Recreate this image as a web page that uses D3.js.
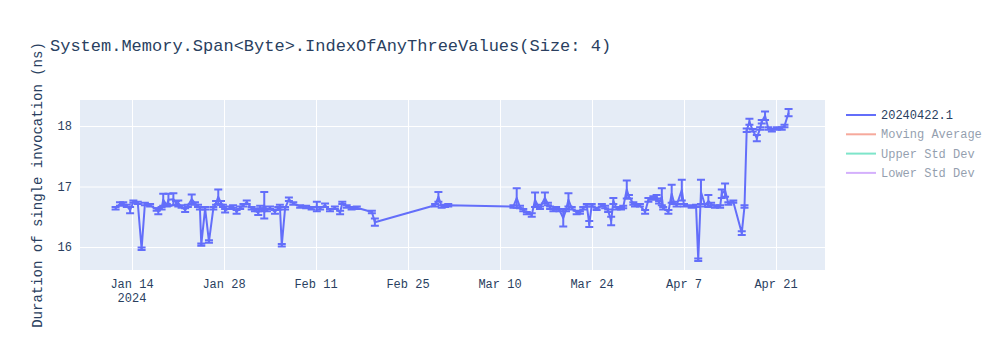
<!DOCTYPE html>
<html>
<head>
<meta charset="utf-8">
<script src="https://cdn.jsdelivr.net/npm/d3@7"></script>
<style>
  html, body { margin: 0; padding: 0; background: #fff; }
  svg { display: block; }
  text { font-family: "Courier New", "Liberation Mono", monospace; }
</style>
</head>
<body>
<svg id="chart" width="1000" height="350"></svg>
<script>
// Benchmark run timestamps (2024, UTC) — month-day T hour
const runDates = [
  "01-11T12","01-12T04","01-12T16","01-13T05","01-13T17","01-14T05","01-14T21","01-15T11","01-15T23","01-16T18",
  "01-17T18","01-18T00","01-18T12","01-18T18","01-19T07","01-19T13","01-20T07","01-20T17","01-21T01","01-21T13",
  "01-22T02","01-22T12","01-23T02","01-23T14","01-24T01","01-24T08","01-24T13","01-25T03","01-25T17","01-26T09",
  "01-26T19","01-27T03","01-27T13","01-27T20","01-28T04","01-28T22","01-29T09","01-29T22","01-30T11","01-30T23",
  "01-31T11","02-01T05","02-01T17","02-02T05","02-02T12","02-02T19","02-03T03","02-03T13","02-04T00","02-04T18",
  "02-05T06","02-05T12","02-05T19","02-06T07","02-06T21","02-07T13","02-08T14","02-09T12","02-10T08","02-11T03",
  "02-11T15","02-12T09","02-13T03","02-13T21","02-14T16","02-15T00","02-15T16","02-16T10","02-17T05","02-19T12",
  "02-19T23","02-29T03","02-29T15","03-01T03","03-01T15","03-02T03","03-12T01","03-12T13","03-13T01","03-13T13",
  "03-14T02","03-14T20","03-15T08","03-15T19","03-16T02","03-16T20","03-17T07","03-17T15","03-18T03","03-18T13",
  "03-19T01","03-19T15","03-20T01","03-20T10","03-20T22","03-21T16","03-22T04","03-22T16","03-23T05","03-23T14",
  "03-23T23","03-24T17","03-25T12","03-26T00","03-26T11","03-26T22","03-27T06","03-27T18","03-28T10","03-28T18",
  "03-29T07","03-29T15","03-30T07","03-30T13","03-31T07","04-01T02","04-01T14","04-02T08","04-02T20","04-03T05",
  "04-03T15","04-03T20","04-04T15","04-05T03","04-05T12","04-05T21","04-06T16","04-07T00","04-08T04","04-08T20",
  "04-09T04","04-09T14","04-10T05","04-10T17","04-11T03","04-11T17","04-12T12","04-12T18","04-13T06","04-13T18",
  "04-14T12","04-15T19","04-16T05","04-16T13","04-16T23","04-17T11","04-18T02","04-18T14","04-18T20","04-19T08",
  "04-19T20","04-20T09","04-21T03","04-21T21","04-22T07","04-22T22"
];

// Mean duration of a single invocation (ns)
const durations = [
  16.64,16.71,16.72,16.68,16.61,16.75,16.73,15.97,16.71,16.69,
  16.62,16.59,16.64,16.78,16.69,16.78,16.79,16.73,16.72,16.67,
  16.61,16.68,16.79,16.72,16.68,16.64,16.04,16.64,16.09,16.64,
  16.73,16.83,16.73,16.68,16.60,16.65,16.67,16.58,16.65,16.69,
  16.74,16.64,16.61,16.56,16.66,16.61,16.69,16.61,16.65,16.58,
  16.64,16.68,16.03,16.64,16.79,16.72,16.67,16.66,16.64,16.67,
  16.64,16.69,16.61,16.65,16.57,16.73,16.67,16.64,16.65,16.58,
  16.41,16.69,16.83,16.67,16.68,16.69,16.67,16.81,16.66,16.61,
  16.56,16.53,16.78,16.68,16.65,16.81,16.71,16.65,16.61,16.64,
  16.61,16.48,16.61,16.78,16.64,16.57,16.57,16.64,16.69,16.38,
  16.69,16.63,16.69,16.66,16.60,16.43,16.76,16.64,16.64,16.66,
  16.95,16.83,16.72,16.69,16.69,16.58,16.78,16.81,16.83,16.74,
  16.83,16.64,16.58,16.88,16.73,16.69,16.94,16.69,16.67,16.68,
  15.79,16.91,16.69,16.76,16.71,16.67,16.67,16.88,16.94,16.72,
  16.75,16.23,16.67,17.93,18.07,17.93,17.80,17.96,18.07,18.17,
  17.96,17.93,17.96,17.96,18.00,18.22
];

// Standard error of each measurement (ns)
const errors = [
  .02,.03,.02,.02,.05,.02,.02,.02,.02,.02,
  .02,.05,.02,.10,.02,.10,.10,.03,.05,.02,
  .03,.02,.08,.02,.02,.02,.02,.02,.02,.02,
  .03,.12,.03,.02,.03,.02,.02,.03,.02,.02,
  .03,.02,.02,.03,.02,.02,.22,.02,.02,.03,
  .02,.02,.02,.02,.03,.02,.02,.02,.02,.08,
  .02,.03,.02,.02,.03,.02,.02,.02,.02,.02,
  .06,.02,.08,.02,.02,.02,.02,.16,.02,.02,
  .02,.03,.12,.02,.02,.09,.02,.02,.02,.02,
  .02,.14,.02,.11,.02,.03,.02,.02,.02,.05,
  .02,.02,.02,.02,.02,.07,.05,.02,.02,.02,
  .15,.03,.02,.02,.02,.03,.03,.03,.03,.02,
  .14,.02,.03,.15,.02,.02,.17,.02,.02,.02,
  .02,.20,.02,.10,.02,.02,.02,.07,.11,.02,
  .02,.03,.02,.03,.05,.02,.05,.02,.03,.07,
  .02,.02,.02,.02,.02,.06
];

const yTicks = [16, 17, 18];
const xTickDates = ["2024-01-14","2024-01-28","2024-02-11","2024-02-25","2024-03-10","2024-03-24","2024-04-07","2024-04-21"];

const legendNames = ["20240422.1", "Moving Average", "Upper Std Dev", "Lower Std Dev"];
const legendColors = ["#636efa", "#EF553B", "#00cc96", "#ab63fa"];
const legendHidden = [false, true, true, true];

const titleText = "System.Memory.Span<Byte>.IndexOfAnyThreeValues(Size: 4)";
const yTitleText = "Duration of single invocation (ns)";

// ---- drawing ----
const parseRun = d3.utcParse("%Y-%m-%dT%H");
const parseDay = d3.utcParse("%Y-%m-%d");
const points = runDates.map((d, i) => ({
  date: parseRun("2024-" + d),
  value: durations[i],
  err: errors[i]
}));

const svg = d3.select("#chart");
const plot = { left: 80, right: 825, top: 100, bottom: 270 };
const textColor = "#2a3f5f";
const lineColor = "#636efa";

const x = d3.scaleUtc()
  .domain([new Date(Date.UTC(2024, 0, 6, 2)), new Date(Date.UTC(2024, 3, 28, 11))])
  .range([plot.left, plot.right]);
const y = d3.scaleLinear()
  .domain([15.62, 18.43])
  .range([plot.bottom, plot.top]);

svg.append("rect")
  .attr("x", plot.left).attr("y", plot.top)
  .attr("width", plot.right - plot.left).attr("height", plot.bottom - plot.top)
  .attr("fill", "#e5ecf6");

const xTicks = xTickDates.map(parseDay);

// grid
const xAxis = d3.axisBottom(x).tickValues(xTicks).tickSize(-(plot.bottom - plot.top)).tickFormat("");
svg.append("g").attr("transform", `translate(0,${plot.bottom})`).call(xAxis)
  .call(g => g.select(".domain").remove())
  .call(g => g.selectAll("line").attr("stroke", "#fff").attr("stroke-width", 1));
const yAxis = d3.axisLeft(y).tickValues(yTicks).tickSize(-(plot.right - plot.left)).tickFormat("");
svg.append("g").attr("transform", `translate(${plot.left},0)`).call(yAxis)
  .call(g => g.select(".domain").remove())
  .call(g => g.selectAll("line").attr("stroke", "#fff").attr("stroke-width", 1));

// tick labels
const fmt = d3.utcFormat("%b %-d");
const xl = svg.append("g");
xTicks.forEach((t, i) => {
  const tx = xl.append("text")
    .attr("x", x(t)).attr("y", 288)
    .attr("text-anchor", "middle")
    .attr("font-size", 12).attr("fill", textColor)
    .text(fmt(t));
  if (i === 0) {
    xl.append("text")
      .attr("x", x(t)).attr("y", 302)
      .attr("text-anchor", "middle")
      .attr("font-size", 12).attr("fill", textColor)
      .text("2024");
  }
});
yTicks.forEach(v => {
  svg.append("text")
    .attr("x", plot.left - 8).attr("y", y(v) + 4)
    .attr("text-anchor", "end")
    .attr("font-size", 12).attr("fill", textColor)
    .text(v);
});

// error bars
const cap = 4;
const eb = svg.append("g").attr("stroke", lineColor).attr("stroke-width", 2).attr("fill", "none");
points.forEach(p => {
  const cx = x(p.date), y0 = y(p.value - p.err), y1 = y(p.value + p.err);
  eb.append("path")
    .attr("d", `M${cx},${y0}V${y1}M${cx - cap},${y0}H${cx + cap}M${cx - cap},${y1}H${cx + cap}`);
});

// series line
svg.append("path")
  .datum(points)
  .attr("fill", "none")
  .attr("stroke", lineColor)
  .attr("stroke-width", 2)
  .attr("stroke-linejoin", "round")
  .attr("d", d3.line().x(d => x(d.date)).y(d => y(d.value)));

// title
svg.append("text")
  .attr("x", 50).attr("y", 51)
  .attr("font-size", 17).attr("fill", textColor)
  .text(titleText);

// y-axis title
svg.append("text")
  .attr("transform", `translate(42,${(plot.top + plot.bottom) / 2}) rotate(-90)`)
  .attr("text-anchor", "middle")
  .attr("font-size", 14).attr("fill", textColor)
  .text(yTitleText);

// legend
const lg = svg.append("g");
legendNames.forEach((name, i) => {
  const ly = 115 + i * 19.3;
  const item = lg.append("g").attr("opacity", legendHidden[i] ? 0.5 : 1);
  item.append("line")
    .attr("x1", 846).attr("x2", 876).attr("y1", ly).attr("y2", ly)
    .attr("stroke", legendColors[i]).attr("stroke-width", 2);
  item.append("text")
    .attr("x", 881).attr("y", ly + 4)
    .attr("font-size", 12).attr("fill", textColor)
    .text(name);
});
</script>
</body>
</html>
